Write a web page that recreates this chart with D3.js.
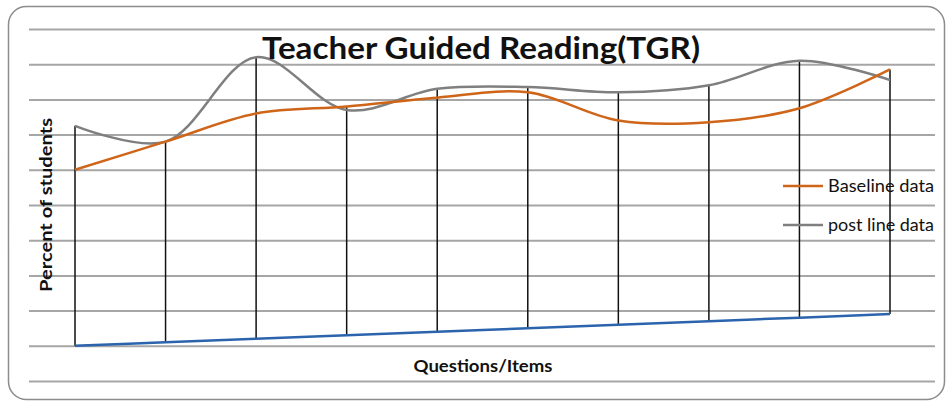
<!DOCTYPE html>
<html>
<head>
<meta charset="utf-8">
<script src="https://cdn.jsdelivr.net/npm/d3@7"></script>
<style>
  body { margin: 0; background: #fff; }
  text { font-family: Lato, "Open Sans", sans-serif; }
</style>
</head>
<body>
<div class="container"></div>
<script>
// chart data
const questions = [1, 2, 3, 4, 5, 6, 7, 8, 9, 10];
const baseline = [50, 58, 66, 68, 70.5, 72, 64, 63.5, 67.5, 78.5];
const postLine = [62.5, 58, 82, 67, 73, 73.5, 72, 74, 81, 75.5];
const itemLine = [0, 1, 2, 3, 4, 5, 6, 7, 8, 9];
const gridTicks = [-10, 0, 10, 20, 30, 40, 50, 60, 70, 80, 90];

// size of the picture
const width = 947;
const height = 403;

const svg = d3.select(".container")
  .append("svg")
  .attr("width", width)
  .attr("height", height);

// rounded frame around the chart
svg.append("rect")
  .attr("x", 8.5)
  .attr("y", 6.5)
  .attr("width", 936)
  .attr("height", 393)
  .attr("rx", 18)
  .attr("fill", "#fff")
  .attr("stroke", "#8c8c8c")
  .attr("stroke-width", 1.5);

// scales
const xScale = d3.scalePoint()
  .domain(questions)
  .range([75, 890]);

const yScale = d3.scaleLinear()
  .domain([-10, 90])
  .range([381, 29]);

// horizontal grid lines
svg.append("g")
  .attr("transform", "translate(29,0)")
  .call(d3.axisLeft(yScale).tickValues(gridTicks).tickSize(-906).tickFormat(""))
  .call(g => g.select(".domain").remove())
  .call(g => g.selectAll("line").attr("stroke", "#a6a6a6").attr("stroke-width", 2));

// drop lines from the highest point down to the item line
svg.append("g")
  .selectAll("line")
  .data(questions)
  .join("line")
  .attr("x1", d => xScale(d))
  .attr("x2", d => xScale(d))
  .attr("y1", (d, i) => yScale(Math.max(baseline[i], postLine[i])))
  .attr("y2", (d, i) => yScale(itemLine[i]))
  .attr("stroke", "#111")
  .attr("stroke-width", 1.5);

// smooth lines like the spreadsheet
const line = d3.line()
  .x((d, i) => xScale(questions[i]))
  .y(d => yScale(d))
  .curve(d3.curveCatmullRom);

svg.append("path")
  .datum(itemLine)
  .attr("d", line)
  .attr("fill", "none")
  .attr("stroke", "#2b64ad")
  .attr("stroke-width", 2.5);

svg.append("path")
  .datum(postLine)
  .attr("d", line)
  .attr("fill", "none")
  .attr("stroke", "#7f7f7f")
  .attr("stroke-width", 2.5);

svg.append("path")
  .datum(baseline)
  .attr("d", line)
  .attr("fill", "none")
  .attr("stroke", "#cf6519")
  .attr("stroke-width", 2.5);

// title
svg.append("text")
  .attr("x", 481)
  .attr("y", 59)
  .attr("text-anchor", "middle")
  .attr("font-size", "31px")
  .attr("font-weight", "bold")
  .attr("fill", "#111")
  .attr("textLength", 438)
  .attr("lengthAdjust", "spacingAndGlyphs")
  .text("Teacher Guided Reading(TGR)");

// axis titles
svg.append("text")
  .attr("transform", "translate(52,205) rotate(-90)")
  .attr("text-anchor", "middle")
  .attr("font-size", "17px")
  .attr("font-weight", "bold")
  .attr("fill", "#111")
  .attr("textLength", 174)
  .attr("lengthAdjust", "spacingAndGlyphs")
  .text("Percent of students");

svg.append("text")
  .attr("x", 483)
  .attr("y", 372)
  .attr("text-anchor", "middle")
  .attr("font-size", "17px")
  .attr("font-weight", "bold")
  .attr("fill", "#111")
  .attr("textLength", 139)
  .attr("lengthAdjust", "spacingAndGlyphs")
  .text("Questions/Items");

// legend
const legendNames = ["Baseline data", "post line data"];
const legendColors = ["#cf6519", "#7f7f7f"];

const legend = svg.append("g")
  .selectAll("g")
  .data(legendNames)
  .join("g")
  .attr("transform", (d, i) => `translate(783, ${186 + i * 39})`);

legend.append("line")
  .attr("x1", 0)
  .attr("x2", 40)
  .attr("stroke", (d, i) => legendColors[i])
  .attr("stroke-width", 2.5);

legend.append("text")
  .attr("x", 45)
  .attr("y", 6)
  .attr("font-size", "17px")
  .attr("fill", "#111")
  .attr("textLength", 106)
  .attr("lengthAdjust", "spacingAndGlyphs")
  .text(d => d);
</script>
</body>
</html>
